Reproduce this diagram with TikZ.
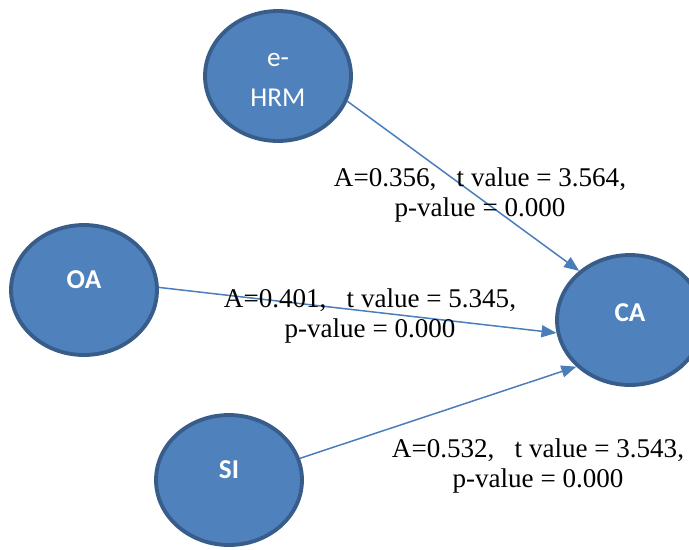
\documentclass[tikz,border=0pt]{standalone}
\usepackage{fontspec}
\setmainfont{Liberation Serif}
\setsansfont{Carlito}
\usepackage{tikz}
\usetikzlibrary{arrows.meta,shapes.geometric,calc}
\definecolor{fillblue}{HTML}{4F81BD}
\definecolor{edgeblue}{HTML}{385D8A}
\definecolor{lineblue}{HTML}{4A7EBB}

\begin{document}
\begin{tikzpicture}[x=0.02cm,y=-0.02cm,
  construct/.style={ellipse,draw=edgeblue,fill=fillblue,line width=2.2pt,
    minimum width=2.92cm,minimum height=2.6cm,inner sep=0pt},
  constructname/.style={text=white,font=\sffamily\fontsize{15.5}{22}\selectfont\bfseries,inner sep=0pt},
  pathline/.style={draw=lineblue,line width=0.85pt,
    -{Triangle[length=0.3cm,width=0.24cm]}},
  coefflabel/.style={align=center,inner sep=0pt,font=\fontsize{15.4}{17}\selectfont}]
\useasboundingbox (0,0) rectangle (689,549);
\clip (0,0) rectangle (689,549);

% constructs
\node[construct] (ehrm) at (278,76) {};
\node[construct] (oa) at (84,290) {};
\node[construct] (si) at (229,480) {};
\node[construct] (ca) at (630,320) {};

\node[constructname,align=center,font=\sffamily\fontsize{15.5}{23}\selectfont] (ehrmtext) at ([yshift=-0.08cm]ehrm.center) {e-\\HRM};
\node[constructname] (oatext) at ([yshift=0.2cm]oa.center) {OA};
\node[constructname] (sitext) at ([yshift=0.2cm]si.center) {SI};
\node[constructname] (catext) at ([yshift=0.14cm]ca.center) {CA};

% paths
\draw[pathline] (ehrm.340) -- (ca.136);
\draw[pathline] (oa.2) -- (ca.190);
\draw[pathline] (si.17) -- (ca.221);

% coefficients
\node[coefflabel] (l1) at (480,195) {A=0.356,\ \ \ t value = 3.564,\\p-value = 0.000};
\node[coefflabel] (l2) at (370,316) {A=0.401,\ \ \ t value = 5.345,\\p-value = 0.000};
\node[coefflabel] (l3) at (538,466) {A=0.532,\ \ \ t value = 3.543,\\p-value = 0.000};
\end{tikzpicture}
\end{document}
